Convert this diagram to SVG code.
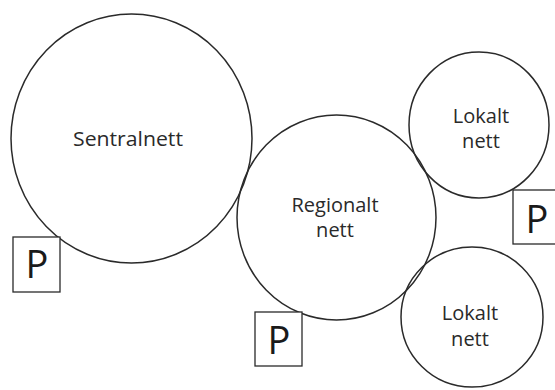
<svg xmlns="http://www.w3.org/2000/svg" width="555" height="390" viewBox="0 0 555 390">
<style>
.c{fill:none;stroke:#2a2a2a;stroke-width:1.5}
.b{fill:#fff;stroke:#2a2a2a;stroke-width:1.3}
.t{font-family:"Open Sans","Noto Sans",sans-serif;font-size:20px;font-weight:500;fill:#2a2a2a;text-anchor:middle}
.p{font-family:"Open Sans","Noto Sans",sans-serif;font-size:38px;fill:#1a1a1a;text-anchor:middle}
</style>
<rect width="555" height="390" fill="#fff"/>
<g id="sentralnett">
<ellipse class="c" cx="131.5" cy="138.5" rx="120.5" ry="124.5"/>
<text class="t" x="128" y="146" textLength="110" lengthAdjust="spacingAndGlyphs">Sentralnett</text>
</g>
<g id="regionalt">
<ellipse class="c" cx="336.5" cy="217.5" rx="99.5" ry="102.5"/>
<text class="t" x="335" y="212">Regionalt</text>
<text class="t" x="335" y="237">nett</text>
</g>
<g id="lokalt1">
<ellipse class="c" cx="479" cy="125" rx="70" ry="73"/>
<text class="t" x="481" y="123">Lokalt</text>
<text class="t" x="481" y="148">nett</text>
</g>
<g id="lokalt2">
<ellipse class="c" cx="472" cy="317" rx="71" ry="70"/>
<text class="t" x="470" y="320">Lokalt</text>
<text class="t" x="470" y="346">nett</text>
</g>
<g id="p1">
<rect class="b" x="13" y="237" width="47" height="55"/>
<text class="p" x="37" y="278">P</text>
</g>
<g id="p2">
<rect class="b" x="255" y="312" width="47" height="54"/>
<text class="p" x="279" y="354">P</text>
</g>
<g id="p3">
<rect class="b" x="513" y="190" width="47" height="54"/>
<text class="p" x="537" y="233">P</text>
</g>
<g id="connectors"/>
</svg>
